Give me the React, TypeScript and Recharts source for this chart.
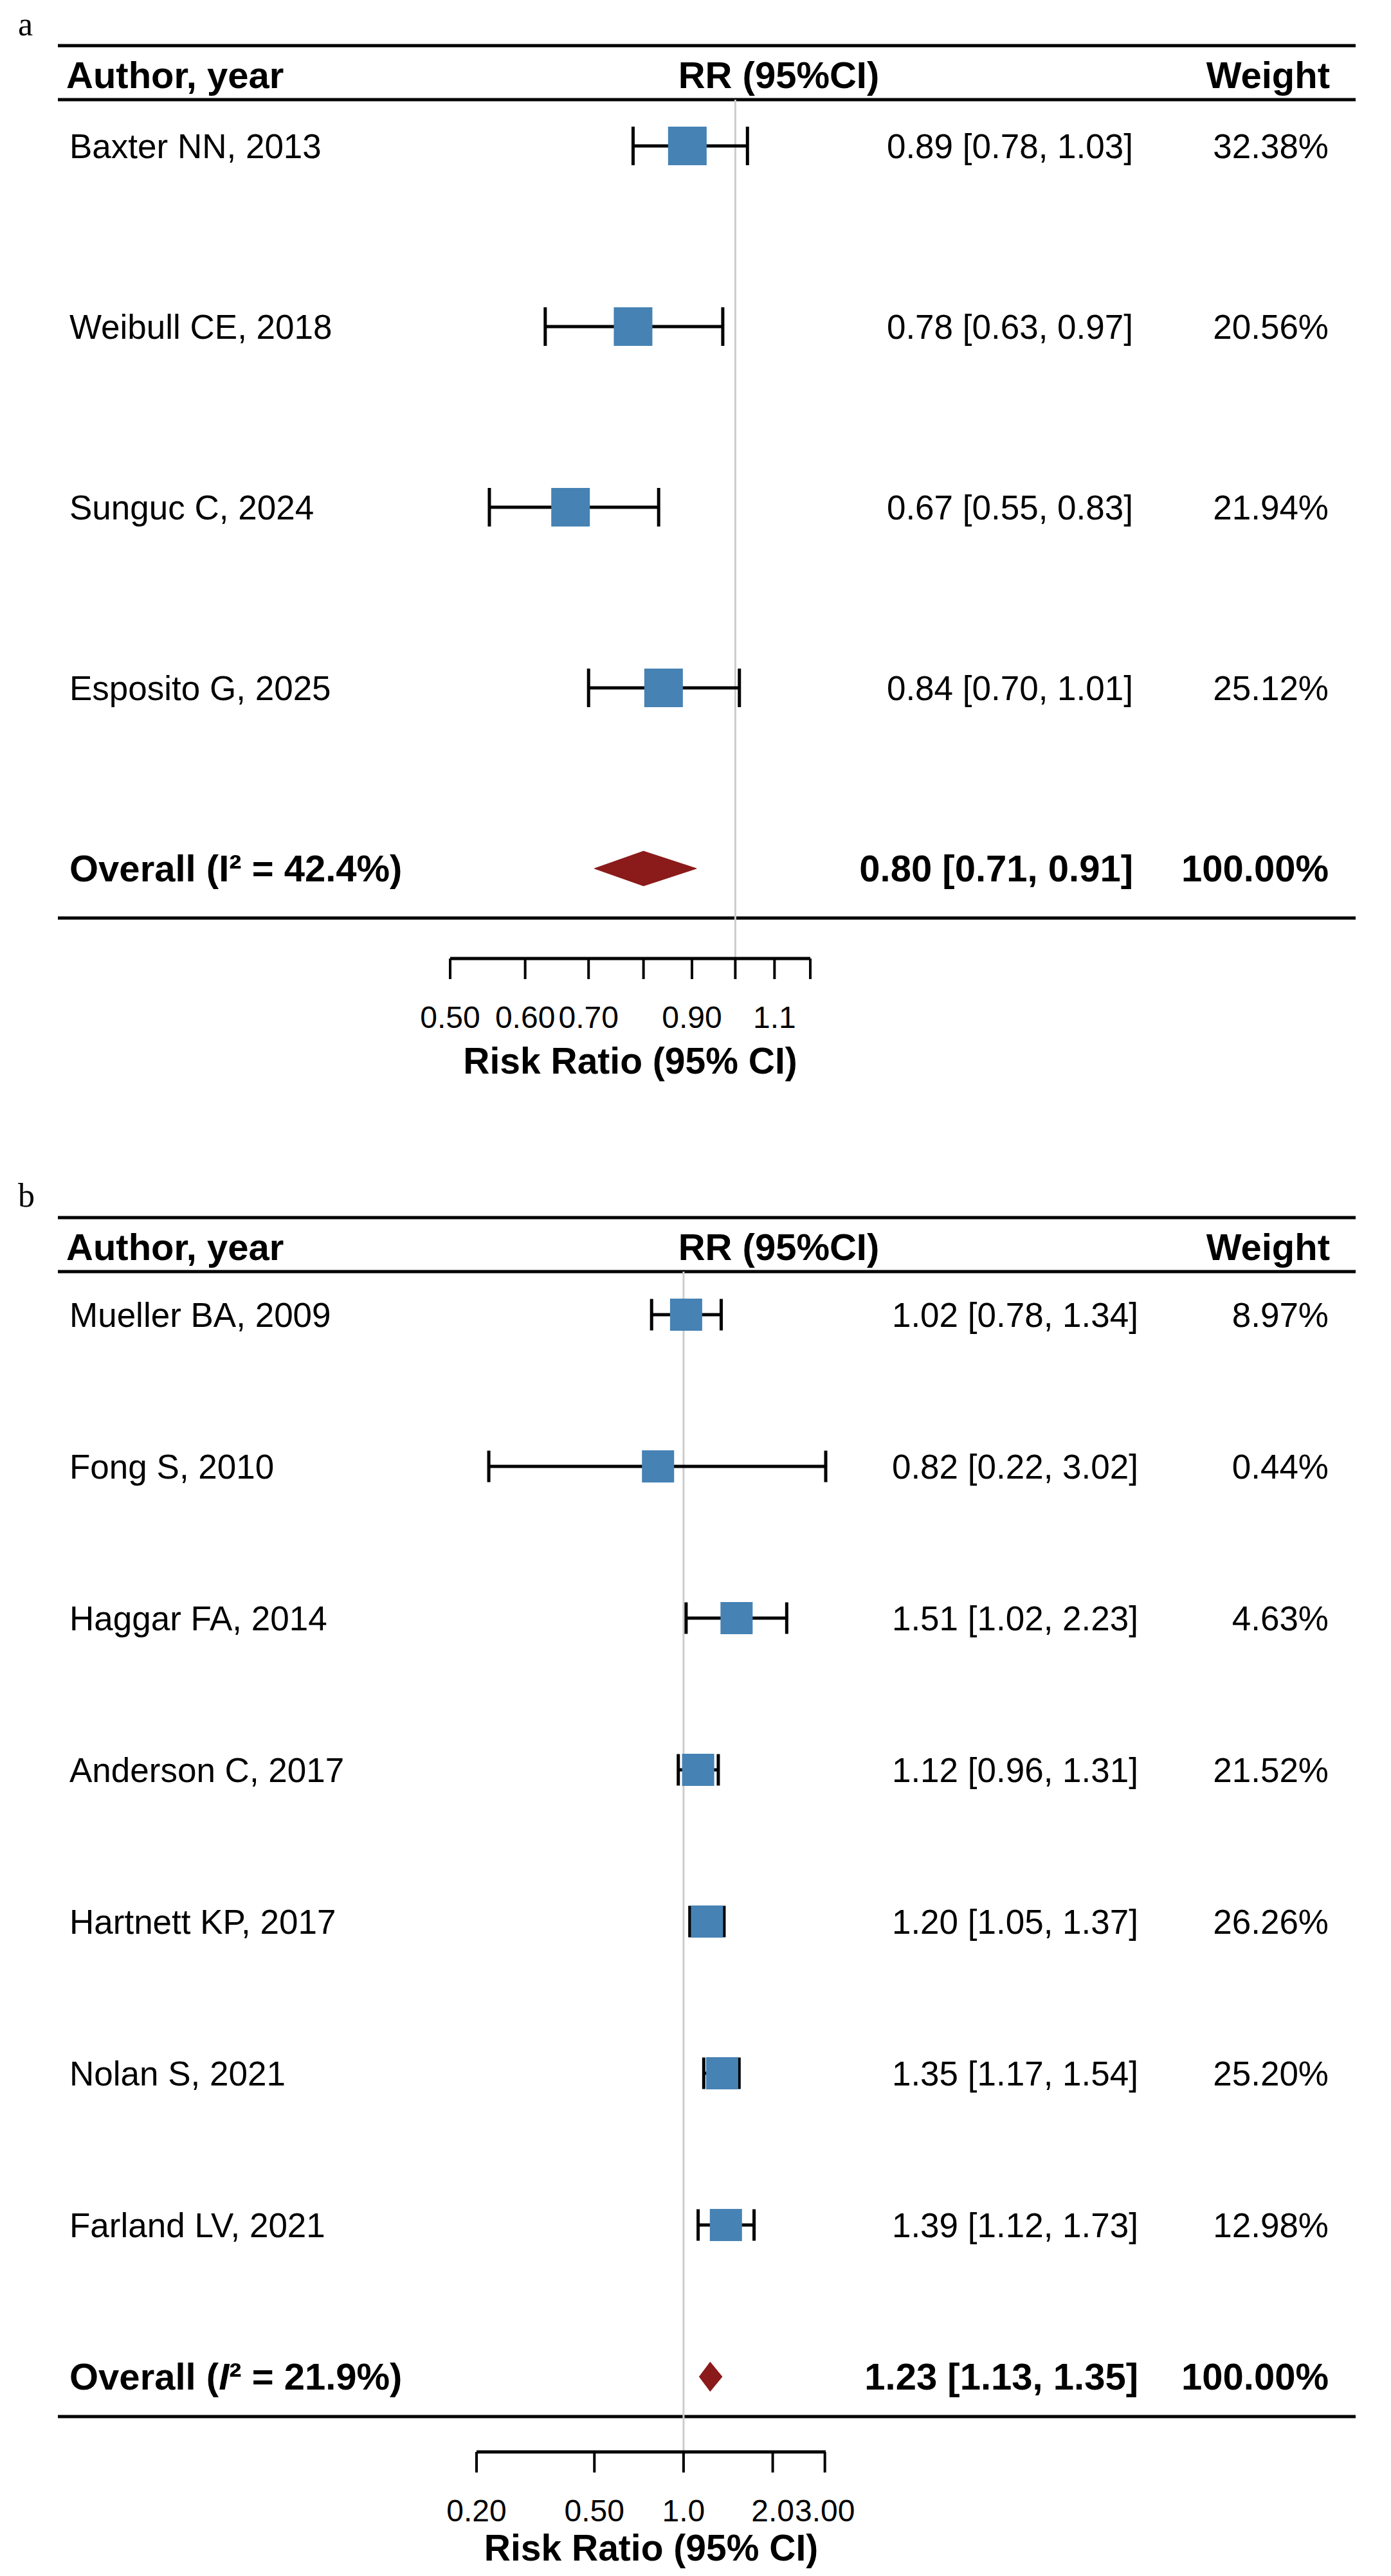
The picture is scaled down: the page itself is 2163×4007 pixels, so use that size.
import React from "react";
import {
  ComposedChart, XAxis, YAxis, Scatter, ErrorBar, ReferenceLine, ReferenceArea, Customized,
} from "recharts";

const FONT = "'Liberation Sans', Arial, Helvetica, sans-serif";
const SERIF = "'Liberation Serif', 'Times New Roman', serif";
const BLUE = "#4682b4";
const RED = "#8b1a1a";
const W = 2163;

// panel a
const A_NAMES = ["Baxter NN, 2013", "Weibull CE, 2018", "Sunguc C, 2024", "Esposito G, 2025"];
const A_RR = [0.89, 0.78, 0.67, 0.84];
const A_LO = [0.78, 0.63, 0.55, 0.7];
const A_HI = [1.03, 0.97, 0.83, 1.01];
const A_WEIGHT = [32.38, 20.56, 21.94, 25.12];
const A_OVERALL = [0.8, 0.71, 0.91];
const A_I2 = 42.4;
const A_TICKS = [0.5, 0.6, 0.7, 0.8, 0.9, 1.0, 1.1, 1.2];
const A_TICK_LABELS = ["0.50", "0.60", "0.70", "", "0.90", "", "1.1", ""];

// panel b
const B_NAMES = ["Mueller BA, 2009", "Fong S, 2010", "Haggar FA, 2014", "Anderson C, 2017",
  "Hartnett KP, 2017", "Nolan S, 2021", "Farland LV, 2021"];
const B_RR = [1.02, 0.82, 1.51, 1.12, 1.2, 1.35, 1.39];
const B_LO = [0.78, 0.22, 1.02, 0.96, 1.05, 1.17, 1.12];
const B_HI = [1.34, 3.02, 2.23, 1.31, 1.37, 1.54, 1.73];
const B_WEIGHT = [8.97, 0.44, 4.63, 21.52, 26.26, 25.2, 12.98];
const B_OVERALL = [1.23, 1.13, 1.35];
const B_I2 = 21.9;
const B_TICKS = [0.2, 0.5, 1.0, 2.0, 3.0];
const B_TICK_LABELS = ["0.20", "0.50", "1.0", "2.0", "3.00"];

const DIAMOND_HALF = 0.096; // in rows
const Y_W = 10;
const X_H = 150;

const PANEL_A = {
  letter: "a", top: 0, height: 1720, names: A_NAMES, rr: A_RR, lo: A_LO, hi: A_HI, weight: A_WEIGHT,
  overall: A_OVERALL, i2: A_I2, italicI: false, ticks: A_TICKS, tickLabels: A_TICK_LABELS, domain: [0.5, 1.2],
  axisLeft: 700, axisRight: 1260, plotTop: 155, plotBottom: 1491, firstRow: 227, rowPx: 281,
  topRule: 71, bottomRule: 1428, headerY: 117, titleY: 1650, letterY: 55, square: 60, cap: 30, ciRight: 1762,
};
const PANEL_B = {
  letter: "b", top: 1720, height: 2287, names: B_NAMES, rr: B_RR, lo: B_LO, hi: B_HI, weight: B_WEIGHT,
  overall: B_OVERALL, i2: B_I2, italicI: true, ticks: B_TICKS, tickLabels: B_TICK_LABELS, domain: [0.2, 3],
  axisLeft: 741, axisRight: 1284, plotTop: 258, plotBottom: 2094, firstRow: 325, rowPx: 236,
  topRule: 174, bottomRule: 2039, headerY: 220, titleY: 2243, letterY: 157, square: 50, cap: 24.5, ciRight: 1770,
};

const fmt = (v: number) => v.toFixed(2);

function Decor({ cfg }: any) {
  const rule = (y: number) => <line x1={90} x2={2108} y1={y} y2={y} stroke="#000" strokeWidth={5} />;
  return (
    <g fontFamily={FONT}>
      <text x={28} y={cfg.letterY} fontFamily={SERIF} fontSize={52} fill="#000">{cfg.letter}</text>
      {rule(cfg.topRule)}
      {rule(cfg.plotTop)}
      {rule(cfg.bottomRule)}
      <text x={103} y={cfg.headerY} dy="0.35em" fontSize={58} fontWeight="bold">Author, year</text>
      <text x={1211} y={cfg.headerY} dy="0.35em" fontSize={58} fontWeight="bold" textAnchor="middle">RR (95%CI)</text>
      <text x={2068} y={cfg.headerY} dy="0.35em" fontSize={58} fontWeight="bold" textAnchor="end">Weight</text>
      <text x={(cfg.axisLeft + cfg.axisRight) / 2} y={cfg.titleY} dy="0.35em" fontSize={57}
        fontWeight="bold" textAnchor="middle">Risk Ratio (95% CI)</text>
    </g>
  );
}

function RowTick({ y, payload, cfg }: any) {
  const i = Math.round(payload.value) - 1;
  const n = cfg.names.length;
  if (i < n) {
    return (
      <g fontFamily={FONT} fontSize={53} fill="#000">
        <text x={108} y={y} dy="0.35em">{cfg.names[i]}</text>
        <text x={cfg.ciRight} y={y} dy="0.35em" textAnchor="end">
          {`${fmt(cfg.rr[i])} [${fmt(cfg.lo[i])}, ${fmt(cfg.hi[i])}]`}
        </text>
        <text x={2066} y={y} dy="0.35em" textAnchor="end">{`${fmt(cfg.weight[i])}%`}</text>
      </g>
    );
  }
  const [rr, lo, hi] = cfg.overall;
  return (
    <g fontFamily={FONT} fontSize={58} fontWeight="bold" fill="#000">
      <text x={108} y={y} dy="0.35em">
        Overall (<tspan fontStyle={cfg.italicI ? "italic" : "normal"}>I</tspan>{`² = ${cfg.i2.toFixed(1)}%)`}
      </text>
      <text x={cfg.ciRight} y={y} dy="0.35em" textAnchor="end">{`${fmt(rr)} [${fmt(lo)}, ${fmt(hi)}]`}</text>
      <text x={2066} y={y} dy="0.35em" textAnchor="end">100.00%</text>
    </g>
  );
}

function ForestPanel({ cfg }: any) {
  const studies = cfg.names.map((_: string, i: number) => ({
    row: i + 1,
    rr: cfg.rr[i],
    err: [cfg.rr[i] - cfg.lo[i], cfg.hi[i] - cfg.rr[i]],
  }));
  const overallRow = cfg.names.length + 1;
  const rows = [...studies.map((s: any) => s.row), overallRow];
  const yLo = 1 - (cfg.firstRow - cfg.plotTop) / cfg.rowPx;
  const yHi = yLo + (cfg.plotBottom - cfg.plotTop) / cfg.rowPx;
  const [orr, olo, ohi] = cfg.overall;
  const s = cfg.square;

  return (
    <div style={{ position: "absolute", left: 0, top: cfg.top }}>
      <ComposedChart
        width={W}
        height={cfg.height}
        margin={{ top: cfg.plotTop, bottom: cfg.height - cfg.plotBottom - X_H, left: cfg.axisLeft - Y_W, right: W - cfg.axisRight }}
      >
        <Customized component={<Decor cfg={cfg} />} />
        <XAxis
          type="number" dataKey="rr" scale="log" domain={cfg.domain} ticks={cfg.ticks} interval={0}
          tickFormatter={(v: number) => cfg.tickLabels[cfg.ticks.indexOf(v)] ?? ""}
          height={X_H} tickSize={32} tickMargin={42}
          axisLine={{ stroke: "#000", strokeWidth: 5 }}
          tickLine={{ stroke: "#000", strokeWidth: 4 }}
          tick={{ fontSize: 48, fill: "#000", fontFamily: FONT }}
        />
        <YAxis
          type="number" dataKey="row" reversed domain={[yLo, yHi]} ticks={rows} interval={0}
          width={Y_W} axisLine={false} tickLine={false}
          tick={(p: any) => <RowTick key={p.index} {...p} cfg={cfg} />}
        />
        <ReferenceLine x={1} stroke="#cccccc" strokeWidth={3} />
        <ReferenceArea
          x1={olo} x2={orr} y1={overallRow - DIAMOND_HALF} y2={overallRow + DIAMOND_HALF}
          ifOverflow="visible"
          shape={(p: any) => (
            <polygon points={`${p.x},${p.y + p.height / 2} ${p.x + p.width},${p.y} ${p.x + p.width},${p.y + p.height}`}
              fill={RED} stroke={RED} strokeWidth={1} />
          )}
        />
        <ReferenceArea
          x1={orr} x2={ohi} y1={overallRow - DIAMOND_HALF} y2={overallRow + DIAMOND_HALF}
          ifOverflow="visible"
          shape={(p: any) => (
            <polygon points={`${p.x},${p.y} ${p.x + p.width},${p.y + p.height / 2} ${p.x},${p.y + p.height}`}
              fill={RED} stroke={RED} strokeWidth={1} />
          )}
        />
        <Scatter
          data={studies}
          isAnimationActive={false}
          shape={(p: any) => <rect x={p.cx - s / 2} y={p.cy - s / 2} width={s} height={s} fill={BLUE} />}
        >
          <ErrorBar dataKey="err" direction="x" width={cfg.cap} strokeWidth={5} stroke="#000" isAnimationActive={false} />
        </Scatter>
      </ComposedChart>
    </div>
  );
}

export default function App() {
  return (
    <div style={{ position: "absolute", left: 0, top: 0, width: W, height: 4007, background: "#fff" }}>
      <ForestPanel cfg={PANEL_A} />
      <ForestPanel cfg={PANEL_B} />
    </div>
  );
}
